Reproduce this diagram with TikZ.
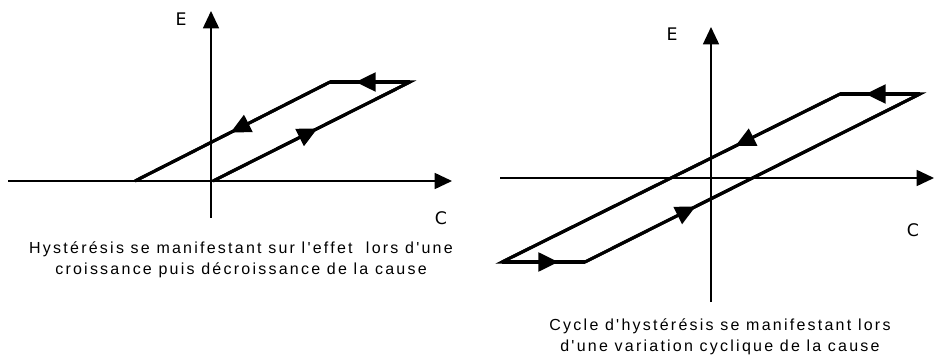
\documentclass[tikz,border=0pt]{standalone}
\usepackage{fontspec}
\setmainfont{Liberation Sans}
\newfontfamily\capfont[LetterSpace=14]{Liberation Sans}
\newfontfamily\labfont{DejaVu Sans}
\usetikzlibrary{arrows.meta,decorations.markings}

\begin{document}
\begin{tikzpicture}[
  x=0.75pt, y=-0.75pt,
  axis/.style={line width=1.2pt, -{Triangle[length=13pt,width=12pt]}},
  branch/.style={line width=2.3pt, line join=miter},
  midarrow/.style={postaction={decorate},
    decoration={markings, mark=at position #1 with {\arrow{Triangle[length=15pt,width=14pt]}}}},
  axlabel/.style={font=\labfont\fontsize{13}{16}\selectfont},
  caption/.style={font=\capfont\fontsize{12}{16}\selectfont, align=center}
]
\useasboundingbox (0,0) rectangle (934,363);

% Left plot: axes
\coordinate (lxs) at (8,181);   \coordinate (lxe) at (452,181);
\coordinate (lys) at (211,218); \coordinate (lye) at (211,11);
\draw[axis] (lxs) -- (lxe);
\draw[axis] (lys) -- (lye);
\node[axlabel] (lE) at (181,19) {E};
\node[axlabel] (lC) at (441,218) {C};

% Left plot: loop
\coordinate (la) at (135,181);
\coordinate (lb) at (330,82);
\coordinate (lc) at (410,82);
\coordinate (ld) at (213,181);
\draw[branch] (la) -- (lb) -- (lc) -- (ld);
\draw[branch, midarrow=0.68] (lc) -- (lb);
\draw[branch, midarrow=0.51] (lb) -- (la);
\draw[branch, midarrow=0.53] (ld) -- (lc);

\node[caption] (lcap) at (241,260)
  {Hystérésis se manifestant sur l'effet \ lors d'une\\croissance puis décroissance de la cause};

% Right plot: axes
\coordinate (rxs) at (500,178); \coordinate (rxe) at (934,178);
\coordinate (rys) at (711,302); \coordinate (rye) at (711,27);
\draw[axis] (rxs) -- (rxe);
\draw[axis] (rys) -- (rye);
\node[axlabel] (rE) at (672,34) {E};
\node[axlabel] (rC) at (913,230) {C};

% Right plot: cycle
\coordinate (ra) at (502,262);
\coordinate (rb) at (585,262);
\coordinate (rc) at (920,94);
\coordinate (rd) at (840,94);
\draw[branch] (ra) -- (rb) -- (rc) -- (rd) -- cycle;
\draw[branch, midarrow=0.68] (ra) -- (rb);
\draw[branch, midarrow=0.33] (rb) -- (rc);
\draw[branch, midarrow=0.68] (rc) -- (rd);
\draw[branch, midarrow=0.31] (rd) -- (ra);

\node[caption] (rcap) at (720,337)
  {Cycle d'hystérésis se manifestant lors\\d'une variation cyclique de la cause};

\end{tikzpicture}
\end{document}
